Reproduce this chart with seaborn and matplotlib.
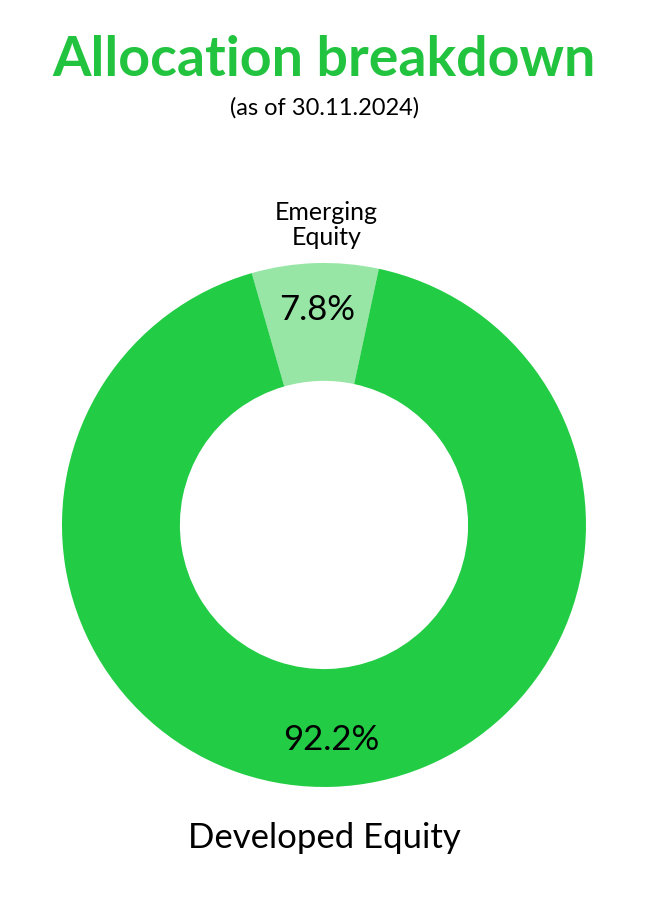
import matplotlib
matplotlib.use("Agg")
import matplotlib.pyplot as plt
import seaborn as sns

# Allocation data (as of 30.11.2024)
categories = ["Emerging\nEquity", "Developed Equity"]
shares = [7.8, 92.2]
colors = ["#98E6A6", "#22CC44"]

sns.set_theme(style="white")
plt.rcParams["font.family"] = ["Lato", "DejaVu Sans"]

fig = plt.figure(figsize=(6.49, 8.99), dpi=100)
ax = fig.add_axes([0.0955, 0.1246, 0.8074, 0.5829])

wedges, texts, pcts = ax.pie(
    shares,
    labels=categories,
    colors=colors,
    startangle=106,
    counterclock=False,
    autopct=lambda p: f"{p:.1f}%",
    pctdistance=0.82,
    labeldistance=1.15,
    wedgeprops=dict(width=0.45, edgecolor="none"),
    textprops=dict(color="black"),
)
ax.set_xlim(-1, 1)
ax.set_ylim(-1, 1)
ax.set_aspect("equal")
ax.axis("off")

for t in pcts:
    t.set_fontsize(25)
texts[0].set_fontsize(18)
texts[0].set_ha("center")
texts[0].set_linespacing(1.15)
texts[0].set_position((0.01, 1.145))
texts[1].set_fontsize(25)
texts[1].set_ha("center")
texts[1].set_position((0.0, -1.195))

fig.text(0.5, 0.933, "Allocation breakdown", ha="center", va="center",
         fontsize=40, fontweight="bold", color="#22C33F")
fig.text(0.5, 0.880, "(as of 30.11.2024)", ha="center", va="center",
         fontsize=17, color="black")

fig.savefig("out.png", dpi=100, facecolor="white")
